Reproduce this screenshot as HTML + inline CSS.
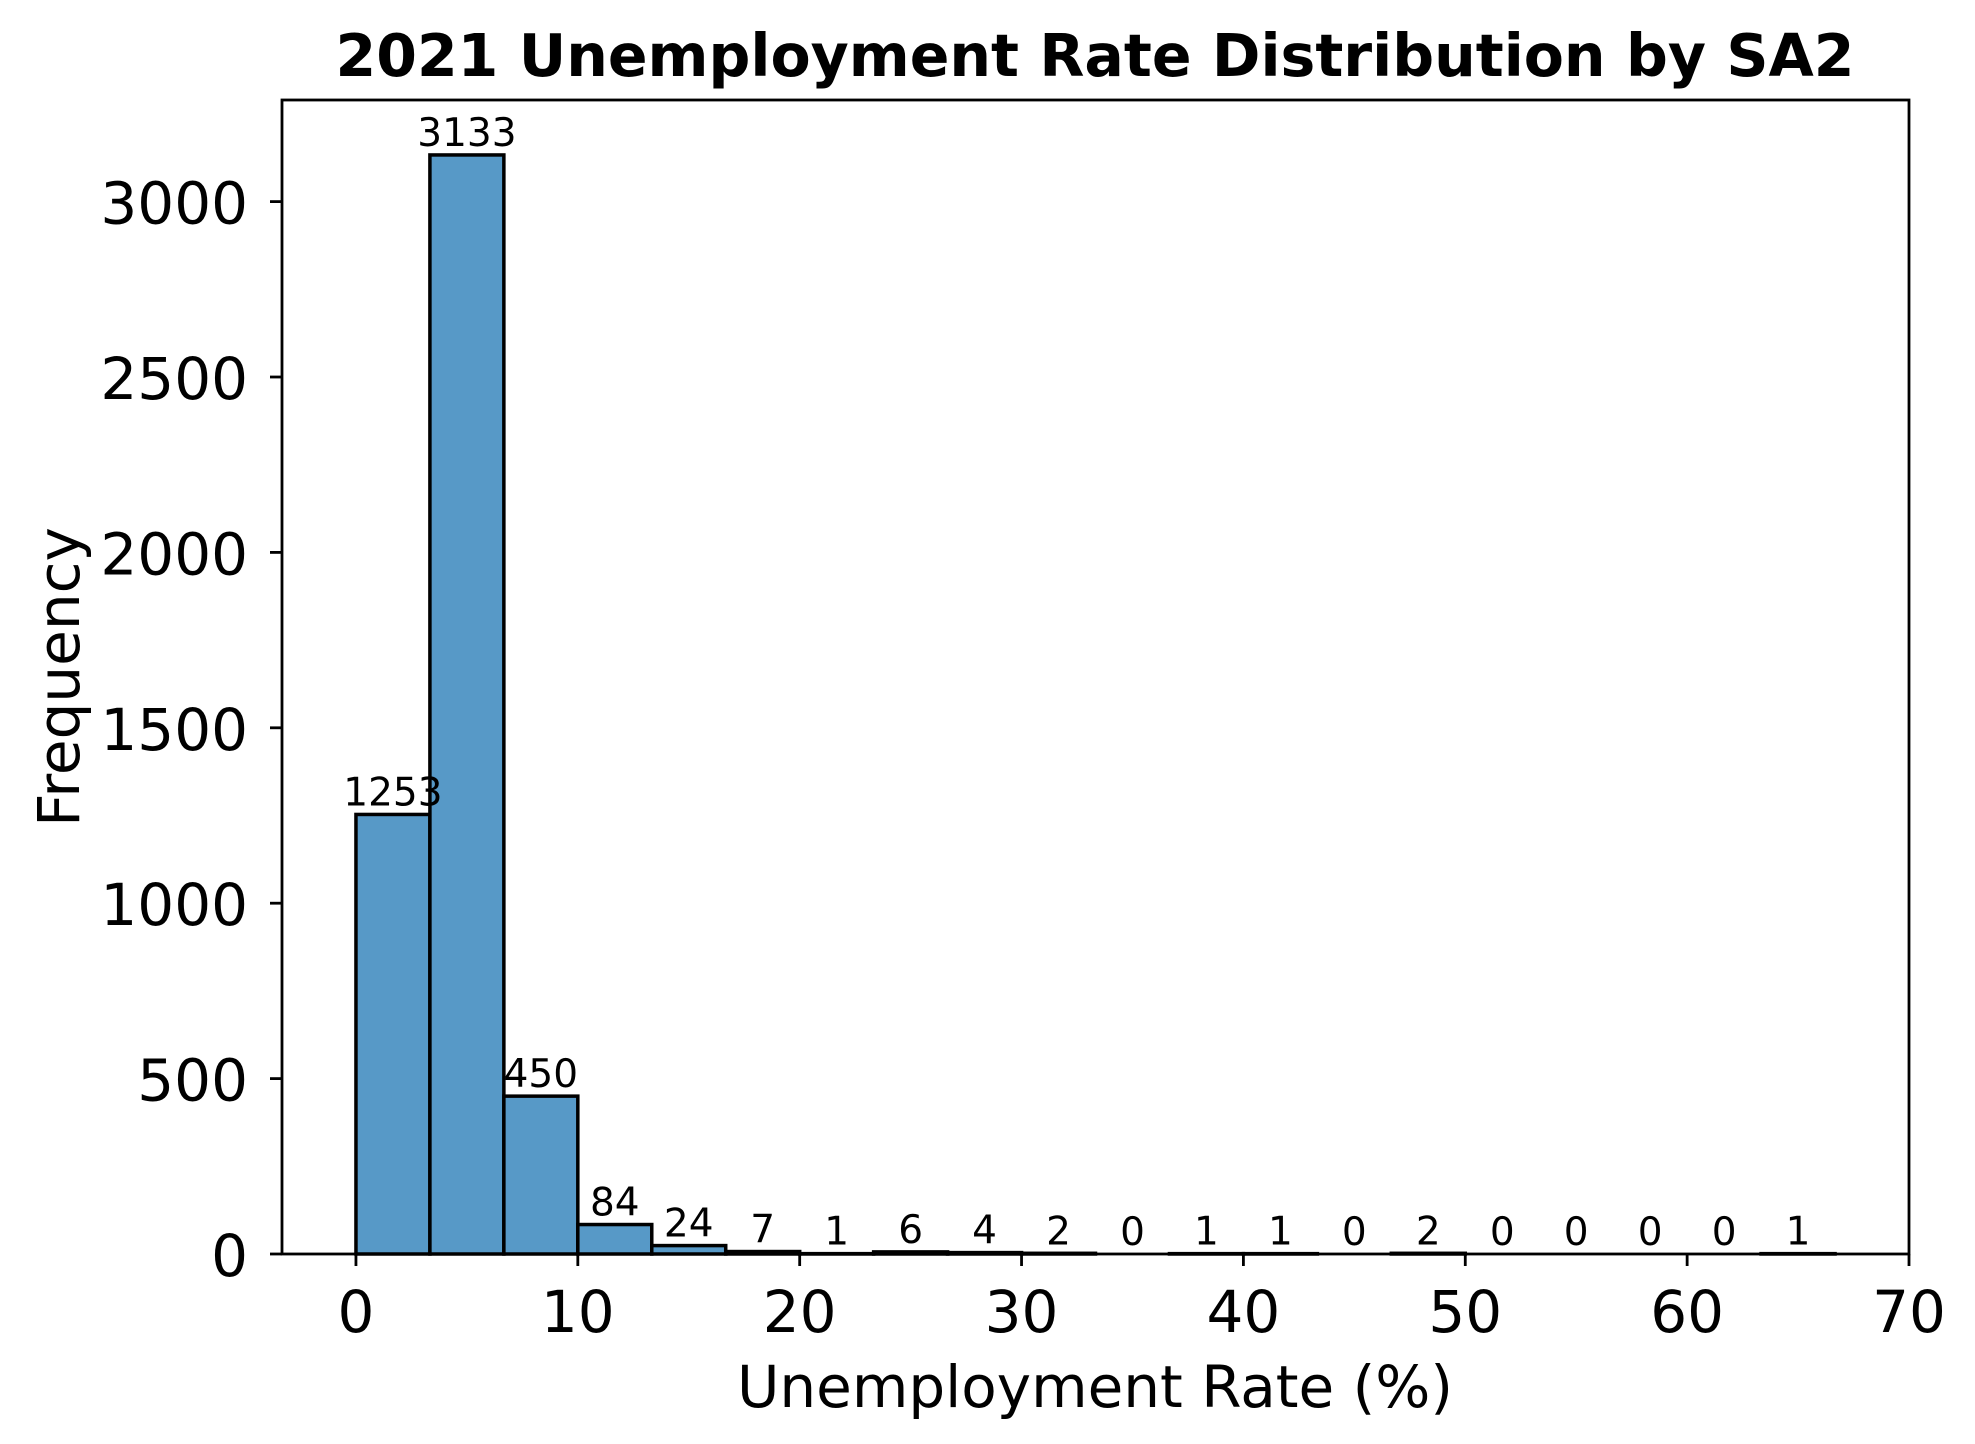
<!DOCTYPE html>
<html><head><meta charset="utf-8"><style>
html,body{margin:0;padding:0;background:#fff;}
svg{display:block;font-family:"DejaVu Sans","Liberation Sans",sans-serif;}
</style></head><body>
<svg id="chart" width="1975" height="1444" viewBox="0 0 1975 1444" xmlns="http://www.w3.org/2000/svg">
<rect width="1975" height="1444" fill="#fff"/>
<text x="1095" y="76" text-anchor="middle" font-size="58.5" font-weight="bold">2021 Unemployment Rate Distribution by SA2</text>
<g id="bars"></g>
<g id="labels"></g>
<g id="axes"></g>
<text x="1095" y="1407" text-anchor="middle" font-size="58">Unemployment Rate (%)</text>
<text x="0" y="0" transform="translate(79,677) rotate(-90)" text-anchor="middle" font-size="58">Frequency</text>
</svg>
<script>
const binStart = 0;
const binWidth = 10/3;
const counts = [1253,3133,450,84,24,7,1,6,4,2,0,1,1,0,2,0,0,0,0,1];
const xTicks = [0,10,20,30,40,50,60,70];
const yTicks = [0,500,1000,1500,2000,2500,3000];

const L=282,R=1909,T=100,B=1254;
const xMin=-10/3,xMax=70,yMax=3133*1.05;
const sx=v=>L+(v-xMin)/(xMax-xMin)*(R-L);
const sy=v=>B-v/yMax*(B-T);
const NS="http://www.w3.org/2000/svg";
function mk(tag,attrs,parent,txt){const e=document.createElementNS(NS,tag);for(const k in attrs)e.setAttribute(k,attrs[k]);if(txt!==undefined)e.textContent=txt;parent.appendChild(e);return e;}
const gb=document.getElementById('bars'),gl=document.getElementById('labels'),ga=document.getElementById('axes');
counts.forEach((c,i)=>{
  const x0=sx(binStart+i*binWidth),x1=sx(binStart+(i+1)*binWidth),y=sy(c);
  const r=mk('rect',{x:x0,y:y,width:x1-x0,height:B-y,fill:'#5799c7',stroke:'#000','stroke-width':3.5},gb);
  
  
  const t=mk('text',{x:(x0+x1)/2,y:y-9,'text-anchor':'middle','font-size':39},gl,String(c));
  
  
});
const fr=mk('rect',{x:L,y:T,width:R-L,height:B-T,fill:'none',stroke:'#000','stroke-width':2.8},ga);


xTicks.forEach(v=>{
  const x=sx(v);
  const tk=mk('line',{x1:x,x2:x,y1:B,y2:B+12,stroke:'#000','stroke-width':2.8},ga);
  
  
  const t=mk('text',{x:x,y:1332,'text-anchor':'middle','font-size':58},ga,String(v));
  
  
});
yTicks.forEach(v=>{
  const y=sy(v);
  const tk=mk('line',{x1:L-12,x2:L,y1:y,y2:y,stroke:'#000','stroke-width':2.8},ga);
  
  
  const t=mk('text',{x:248,y:y+22,'text-anchor':'end','font-size':58},ga,String(v));
  
  
});
</script>
</body></html>
